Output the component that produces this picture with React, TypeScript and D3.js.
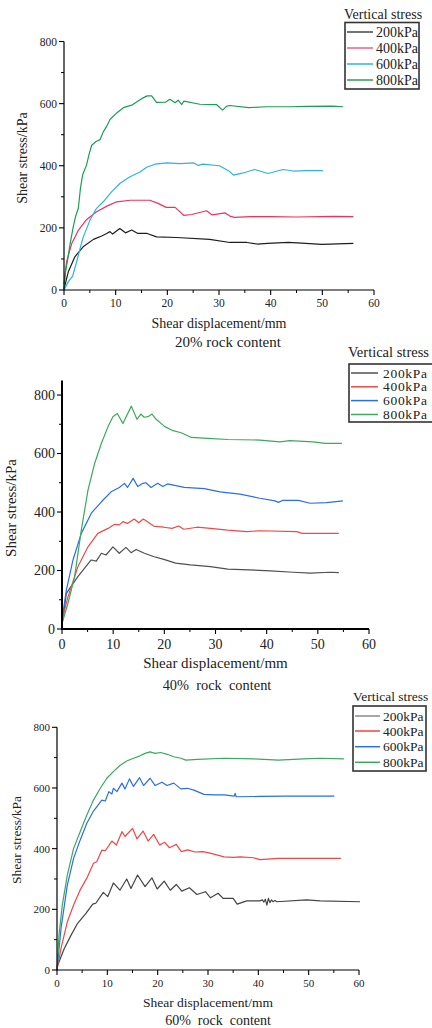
import React from 'react';
import * as d3 from 'd3';

type Pt = [number, number];

// ---------- shared labels ----------
const stressLabels = ['200kPa', '400kPa', '600kPa', '800kPa'];
const xTicks = [0, 10, 20, 30, 40, 50, 60];
const xMinorTicks = [5, 15, 25, 35, 45, 55];
const yTicks = [0, 200, 400, 600, 800];
const yMinorTicks = [100, 300, 500, 700];
const panelTitles = ['20% rock content', '40%  rock  content', '60%  rock  content'];

// ---------- Panel 1: 20% rock content ----------
const p1_200: Pt[] = [[0,3],[0.84,59],[2.1,107],[3.7,139],[5.7,163],[7.3,174],[8.26,182],[8.9,188],[9.4,180],[10.8,198],[11.9,184],[13.1,193],[14.3,182],[16.1,182],[17.9,171],[21.8,169],[28.2,163],[32.1,153],[35.4,153],[37.4,148],[39.4,150],[43.4,153],[46,151],[49.9,147],[56,150]];
const p1_400: Pt[] = [[0,19],[0.5,91],[1.5,150],[2.8,193],[4.4,227],[6.3,252],[8.3,270],[10.2,284],[12.8,289],[16.6,289],[18.2,279],[19.8,266],[21.5,266],[22.1,257],[23.2,240],[24.7,243],[27.6,255],[28.6,242],[29.9,245],[31.2,248],[32.1,238],[33,234],[36,236],[40,236],[45,235],[52.1,237],[56,236]];
const p1_600: Pt[] = [[0,0],[0.84,27],[1.68,45],[2.45,91],[3.1,133],[3.74,171],[5.03,225],[6.3,263],[7.6,284],[9.2,316],[10.8,343],[12.7,364],[14.7,380],[16,395],[17.6,405],[19.9,409],[22.5,407],[25.1,409],[26,401],[26.9,405],[30.1,400],[32,382],[32.8,370],[34.5,376],[36.9,388],[39.5,375],[42.4,388],[44.4,383],[47,384],[50.1,384]];
const p1_800: Pt[] = [[0,5],[0.3,60],[0.64,91],[1.2,150],[1.8,204],[2.3,240],[2.77,263],[3.2,330],[3.6,370],[4.35,402],[4.9,440],[5.36,466],[6.2,478],[6.97,484],[7.6,509],[8.2,525],[8.9,549],[10.2,570],[11.5,587],[13.1,595],[14.2,607],[15.03,616],[16.1,625],[16.97,625],[17.9,604],[19.7,605],[20.5,614],[21.5,603],[22.1,611],[22.8,597],[23.2,608],[26.3,598],[29.5,597],[30.7,579],[31.5,592],[32.1,594],[35.7,587],[39.2,590],[43.7,590],[47,591],[52,592],[54,590]];

// ---------- Panel 2: 40% rock content ----------
const p2_200: Pt[] = [[0,13],[0.85,122],[3.1,179],[5.7,236],[6.7,232],[7.7,259],[8.6,253],[9.95,281],[11.2,259],[12.5,279],[13.5,261],[14.5,272],[16.1,259],[18,247],[19.9,238],[22.2,225],[25.1,219],[29,213],[32.4,205],[40.7,199],[45.2,194],[48.5,191],[52.4,194],[54.1,193]];
const p2_400: Pt[] = [[0,31],[1.17,110],[3.1,213],[5.08,281],[7,327],[9,344],[10.3,358],[11.2,356],[11.9,367],[12.8,361],[14.1,376],[15,363],[15.9,376],[17,363],[17.9,352],[19.9,348],[21.5,344],[22.8,352],[23.8,341],[26.4,348],[29,344],[32.4,338],[36.1,333],[38.7,336],[45.9,333],[46.9,327],[54.1,327]];
const p2_600: Pt[] = [[0,31],[0.85,133],[2.15,236],[3.77,327],[5.73,396],[7.7,435],[9.6,469],[11.2,484],[12.2,498],[12.8,484],[13.9,515],[14.8,487],[15.8,498],[16.4,500],[17.4,484],[18.7,498],[19.7,487],[20.6,496],[23.9,484],[27.8,480],[30.9,469],[34.8,461],[38.7,447],[41.6,438],[42.3,433],[43.2,440],[46.2,440],[48.5,430],[51.7,432],[54.9,438]];
const p2_800: Pt[] = [[0,19],[1.17,88],[2.47,179],[3.77,338],[5.08,475],[6.38,566],[7.7,635],[9,692],[9.95,726],[10.8,737],[11.9,703],[13.55,762],[14.65,717],[15.4,735],[16.05,724],[16.8,726],[17.6,735],[18.4,717],[20.1,692],[21.7,678],[23.3,671],[25.3,655],[28.5,652],[32.4,648],[38.7,646],[42.6,640],[44.5,644],[49.1,640],[51.4,635],[54.7,635]];

// ---------- Panel 3: 60% rock content ----------
const p3_200: Pt[] = [[0,10],[1.45,71],[2.8,115],[4.1,154],[5.75,187],[7.1,217],[7.7,220],[9.2,256],[10.1,242],[11.2,287],[12.5,263],[13.85,300],[14.7,269],[16,313],[17.5,275],[18.85,304],[19.9,267],[21.3,293],[22.5,263],[23.7,282],[24.8,260],[26.3,271],[27.8,249],[29.5,258],[30.5,238],[32,253],[33,236],[35,236],[35.8,217],[37.7,228],[40.3,228],[40.8,231],[41.1,224],[41.4,233],[41.7,214],[42,236],[42.3,222],[42.6,231],[42.9,225],[43.3,229],[43.7,225],[49.6,231],[52.3,228],[60.2,225]];
const p3_400: Pt[] = [[0,0],[0.8,71],[2.05,159],[3.3,214],[4.6,264],[5.9,302],[7.25,352],[7.9,357],[8.9,395],[9.6,393],[10.9,425],[11.8,412],[12.9,456],[13.5,440],[15,467],[15.9,432],[17.1,458],[18.1,425],[19.2,447],[20.4,412],[21.4,421],[22.35,403],[23.7,414],[24.7,390],[26,396],[27.4,389],[29,390],[30.4,385],[33.2,373],[35,371],[36.4,373],[39,370],[40.3,364],[44,368],[56.4,368]];
const p3_600: Pt[] = [[0,0],[0.8,137],[2.05,280],[3.3,368],[4.6,428],[5.9,483],[7.25,524],[7.9,538],[8.9,560],[9.6,557],[10.3,588],[10.9,580],[11.2,599],[11.9,588],[12.9,616],[13.5,597],[14.4,630],[15.2,605],[16.4,634],[17.2,608],[18.5,632],[19.5,608],[20.85,619],[21.85,608],[23.2,616],[24.6,597],[25.9,599],[27.2,593],[29.2,579],[31.2,577],[33.2,577],[35.2,573],[35.4,582],[35.6,571],[40.3,572],[45.6,573],[55.1,573]];
const p3_800: Pt[] = [[0,0],[0.4,115],[1.05,214],[2.05,313],[3.3,401],[4.6,456],[5.93,511],[7.25,560],[8.6,599],[9.9,632],[11.2,654],[12.5,674],[13.85,689],[15.2,698],[16.5,706],[17.5,714],[18.5,719],[19.5,714],[20.6,717],[21.9,711],[23.2,703],[24.6,698],[25.6,692],[27.9,694],[33.2,698],[39,696],[44,692],[49,696],[52.3,698],[57,696]];

const FONT = "'Liberation Serif', 'Times New Roman', serif";

type PanelCfg = {
  series: Pt[][];
  colors: string[];
  legendColors: string[];
  title: string;
  x0: number; x1: number; yb: number; yt: number; yMax: number; axisTop: number;
  axisW: number; tickFont: number; labelFont: number; titleFont: number; legendFont: number; legendSpacing: number;
  yLabelX: number; yLabelY: number; xLabelY: number; titleY: number; titleX: number;
  tickLabelY: number;
  legend: { tx: number; ty: number; bx: number; by: number; bw: number; bh: number; rows: number[]; lx0: number; lx1: number; textX: number };
};

const panels: PanelCfg[] = [
  {
    series: [p1_200, p1_400, p1_600, p1_800],
    colors: ['#1e1e1e', '#f0325a', '#2eb2e6', '#1a9e55'],
    legendColors: ['#444', '#f06080', '#2eb2e6', '#2e9e50'],
    title: panelTitles[0],
    x0: 64, x1: 374, yb: 290, yt: 41.5, yMax: 800, axisTop: 800,
    axisW: 1.2, tickFont: 11.5, labelFont: 14, titleFont: 15, legendFont: 14, legendSpacing: 0,
    yLabelX: 22, yLabelY: 158, xLabelY: 323, titleY: 342, titleX: 228, tickLabelY: 303,
    legend: { tx: 344, ty: 14, bx: 345, by: 22.5, bw: 74, bh: 66.5, rows: [32, 48, 64, 80], lx0: 347, lx1: 373, textX: 376 },
  },
  {
    series: [p2_200, p2_400, p2_600, p2_800],
    colors: ['#505050', '#f04848', '#2a6fe6', '#3aaa5e'],
    legendColors: ['#505050', '#f04848', '#2a6fe6', '#3aaa5e'],
    title: panelTitles[1],
    x0: 62, x1: 369, yb: 629, yt: 380.4, yMax: 850, axisTop: 850,
    axisW: 2, tickFont: 14, labelFont: 15, titleFont: 14.4, legendFont: 13.5, legendSpacing: 0.7,
    yLabelX: 11, yLabelY: 508, xLabelY: 663, titleY: 685, titleX: 217, tickLabelY: 644,
    legend: { tx: 348, ty: 352, bx: 349, by: 364, bw: 90, bh: 58, rows: [373, 386.8, 400.6, 414.5], lx0: 351, lx1: 378, textX: 383 },
  },
  {
    series: [p3_200, p3_400, p3_600, p3_800],
    colors: ['#444444', '#f04646', '#2a6fe0', '#3aa860'],
    legendColors: ['#8a8a8a', '#f04646', '#2a6fe0', '#3aa860'],
    title: panelTitles[2],
    x0: 57, x1: 359, yb: 970, yt: 727.3, yMax: 800, axisTop: 800,
    axisW: 1.2, tickFont: 11, labelFont: 13.5, titleFont: 14, legendFont: 13.5, legendSpacing: 0,
    yLabelX: 16, yLabelY: 840, xLabelY: 1002, titleY: 1020, titleX: 218, tickLabelY: 983,
    legend: { tx: 353, ty: 696, bx: 353, by: 706, bw: 73, bh: 65, rows: [716, 731, 746.7, 762.3], lx0: 355, lx1: 380, textX: 383 },
  },
];

function Panel({ c }: { c: PanelCfg }) {
  const x = d3.scaleLinear().domain([0, 60]).range([c.x0, c.x1]);
  const y = d3.scaleLinear().domain([0, c.yMax]).range([c.yb, c.yt]);
  const line = d3.line<Pt>().x((d) => x(d[0])).y((d) => y(d[1]));
  const L = c.legend;
  return (
    <g fontFamily={FONT}>
      {c.series.map((s, i) => (
        <path key={i} d={line(s) || ''} fill="none" stroke={c.colors[i]} strokeWidth={1.2} strokeLinejoin="round" />
      ))}
      {/* axes */}
      <line x1={c.x0} x2={c.x0} y1={c.yb + c.axisW / 2} y2={y(c.axisTop)} stroke="#000" strokeWidth={c.axisW} />
      <line x1={c.x0} x2={x(60)} y1={c.yb} y2={c.yb} stroke="#000" strokeWidth={c.axisW} />
      {xTicks.map((t) => (
        <g key={'xt' + t}>
          <line x1={x(t)} x2={x(t)} y1={c.yb} y2={c.yb + 5} stroke="#000" strokeWidth={1.1} />
          <text x={x(t)} y={c.tickLabelY} fontSize={c.tickFont} textAnchor="middle" dominantBaseline="central" fill="#222">{t}</text>
        </g>
      ))}
      {xMinorTicks.map((t) => (
        <line key={'xm' + t} x1={x(t)} x2={x(t)} y1={c.yb} y2={c.yb + 3} stroke="#000" strokeWidth={1} />
      ))}
      {yTicks.map((t) => (
        <g key={'yt' + t}>
          <line x1={c.x0} x2={c.x0 - 5} y1={y(t)} y2={y(t)} stroke="#000" strokeWidth={1.1} />
          <text x={c.x0 - 7} y={y(t)} fontSize={c.tickFont} textAnchor="end" dominantBaseline="central" fill="#222">{t}</text>
        </g>
      ))}
      {yMinorTicks.map((t) => (
        <line key={'ym' + t} x1={c.x0} x2={c.x0 - 3} y1={y(t)} y2={y(t)} stroke="#000" strokeWidth={1} />
      ))}
      {/* axis titles */}
      <text transform={`translate(${c.yLabelX},${c.yLabelY}) rotate(-90)`} fontSize={c.labelFont} textAnchor="middle" dominantBaseline="central" fill="#222">Shear stress/kPa</text>
      <text x={(c.x0 + c.x1) / 2} y={c.xLabelY} fontSize={c.labelFont} textAnchor="middle" dominantBaseline="central" fill="#222">Shear displacement/mm</text>
      <text x={c.titleX} y={c.titleY} fontSize={c.titleFont} textAnchor="middle" dominantBaseline="central" fill="#222" style={{ whiteSpace: 'pre' }}>{c.title}</text>
      {/* legend */}
      <text x={L.tx} y={L.ty} fontSize={c.legendFont + (c.legendSpacing ? 1 : 0)} dominantBaseline="central" fill="#222">Vertical stress</text>
      <rect x={L.bx} y={L.by} width={L.bw} height={L.bh} fill="#fff" stroke="#333" strokeWidth={1.6} />
      {stressLabels.map((lab, i) => (
        <g key={lab}>
          <line x1={L.lx0} x2={L.lx1} y1={L.rows[i]} y2={L.rows[i]} stroke={c.legendColors[i]} strokeWidth={1.5} />
          <text x={L.textX} y={L.rows[i]} fontSize={c.legendFont} letterSpacing={c.legendSpacing} dominantBaseline="central" fill="#222">{lab}</text>
        </g>
      ))}
    </g>
  );
}

export default function App() {
  return (
    <div style={{ position: 'absolute', left: 0, top: 0 }}>
      <svg width={432} height={1028} viewBox="0 0 432 1028" style={{ display: 'block', background: '#fff' }}>
        <rect x={0} y={0} width={432} height={1028} fill="#fff" />
        {panels.map((p, i) => (
          <Panel key={i} c={p} />
        ))}
      </svg>
    </div>
  );
}
